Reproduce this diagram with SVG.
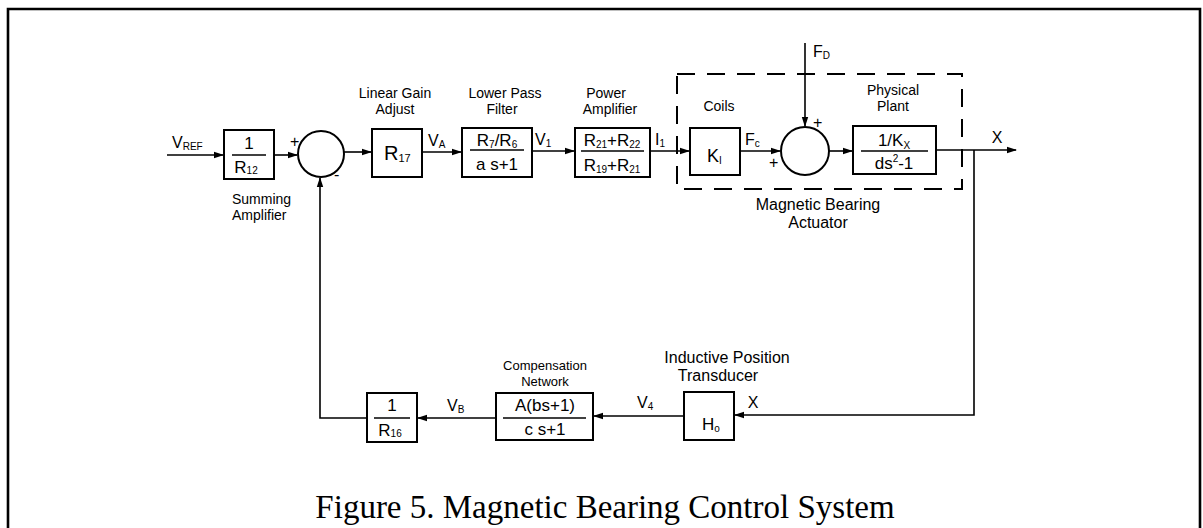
<svg xmlns="http://www.w3.org/2000/svg" width="1203" height="528" viewBox="0 0 1203 528">
<style>
.ln{fill:none;stroke:#000;stroke-width:1.6}
.bx{fill:#fff;stroke:#000;stroke-width:2}
.bar{stroke:#000;stroke-width:1.6}
.t{font-family:'Liberation Sans',Arial,sans-serif;fill:#000}
.lab{font-size:14px;text-anchor:middle}
.big{font-size:16px;text-anchor:middle}
.fr{font-size:17px;text-anchor:middle}
.sym{font-size:16px}
.sub{font-size:10px}
.dash{fill:none;stroke:#000;stroke-width:2;stroke-dasharray:18 12}
</style>
<defs>
<marker id="ah" markerWidth="10" markerHeight="8" refX="9" refY="4" orient="auto" markerUnits="userSpaceOnUse"><path d="M0,0.8 L10,4 L0,7.2z" fill="#000"/></marker>
</defs>
<rect width="1203" height="528" fill="#fff"/>
<g id="frame" fill="none" stroke="#000" stroke-width="2.6">
<path d="M8,528 V9 H1200 V528"/>
</g>
<g id="connectors" class="ln">
<path d="M167,155 H223" marker-end="url(#ah)"/>
<path d="M274,155 H297" marker-end="url(#ah)"/>
<path d="M344,152 H371" marker-end="url(#ah)"/>
<path d="M422,152 H461" marker-end="url(#ah)"/>
<path d="M532,151 H574" marker-end="url(#ah)"/>
<path d="M650,151 H689" marker-end="url(#ah)"/>
<path d="M740,151 H780" marker-end="url(#ah)"/>
<path d="M805,43 V126" marker-end="url(#ah)"/>
<path d="M829,151 H852" marker-end="url(#ah)"/>
<path d="M936,150 H1016" marker-end="url(#ah)"/>
<path d="M974,150 V415 H735" marker-end="url(#ah)"/>
<path d="M684,416 H594" marker-end="url(#ah)"/>
<path d="M496,418 H418" marker-end="url(#ah)"/>
<path d="M367,418 H320 V178" marker-end="url(#ah)"/>
</g>
<g id="actuator-boundary">
<rect class="dash" x="677" y="74" width="285" height="115"/>
<text class="t big" x="818" y="210">Magnetic Bearing</text>
<text class="t big" x="818" y="228">Actuator</text>
</g>
<g id="vref">
<text class="t sym" x="172" y="148">V<tspan class="sub" dy="2">REF</tspan></text>
</g>
<g id="summing-amplifier">
<rect class="bx" x="224" y="130" width="50" height="49"/>
<text class="t fr" x="249" y="149">1</text>
<line class="bar" x1="232" y1="155" x2="266" y2="155"/>
<text class="t fr" x="246" y="173">R<tspan class="sub" dy="1">12</tspan></text>
<text class="t lab" x="232" y="204" style="text-anchor:start">Summing</text>
<text class="t lab" x="232" y="220" style="text-anchor:start">Amplifier</text>
</g>
<g id="sum1">
<circle cx="321" cy="154" r="23" fill="#fff" stroke="#000" stroke-width="2"/>
<text class="t sym" x="290" y="147">+</text>
<text class="t sym" x="334" y="180">-</text>
</g>
<g id="linear-gain">
<text class="t lab" x="395" y="98">Linear Gain</text>
<text class="t lab" x="395" y="114">Adjust</text>
<rect class="bx" x="372" y="129" width="50" height="48"/>
<text class="t" x="384" y="160" font-size="20">R<tspan font-size="11" dy="2">17</tspan></text>
<text class="t sym" x="428" y="146">V<tspan class="sub" dy="2">A</tspan></text>
</g>
<g id="low-pass-filter">
<text class="t lab" x="505" y="98">Lower Pass</text>
<text class="t lab" x="502" y="114">Filter</text>
<rect class="bx" x="462" y="128" width="70" height="49"/>
<text class="t fr" x="497" y="146">R<tspan class="sub" dy="2">7</tspan><tspan dy="-2">/R</tspan><tspan class="sub" dy="2">6</tspan></text>
<line class="bar" x1="470" y1="150" x2="524" y2="150"/>
<text class="t fr" x="497" y="170">a s+1</text>
<text class="t sym" x="535" y="145">V<tspan class="sub" dy="2">1</tspan></text>
</g>
<g id="power-amplifier">
<text class="t lab" x="606" y="98">Power</text>
<text class="t lab" x="610" y="114">Amplifier</text>
<rect class="bx" x="575" y="128" width="75" height="49"/>
<text class="t fr" x="612" y="146">R<tspan class="sub" dy="2">21</tspan><tspan dy="-2">+R</tspan><tspan class="sub" dy="2">22</tspan></text>
<line class="bar" x1="581" y1="151" x2="644" y2="151"/>
<text class="t fr" x="612" y="171">R<tspan class="sub" dy="2">19</tspan><tspan dy="-2">+R</tspan><tspan class="sub" dy="2">21</tspan></text>
<text class="t sym" x="655" y="145">I<tspan class="sub" dy="2">1</tspan></text>
</g>
<g id="coils">
<text class="t lab" x="719" y="111">Coils</text>
<rect class="bx" x="690" y="128" width="50" height="47"/>
<text class="t" x="707" y="162" font-size="18">K<tspan font-size="10" dy="2">I</tspan></text>
<text class="t sym" x="745" y="145">F<tspan class="sub" dy="2">c</tspan></text>
</g>
<g id="sum2">
<circle cx="805" cy="151" r="24" fill="#fff" stroke="#000" stroke-width="2"/>
<text class="t sym" x="769" y="168">+</text>
<text class="t sym" x="813" y="128">+</text>
<text class="t sym" x="813" y="57">F<tspan class="sub" dy="2">D</tspan></text>
</g>
<g id="physical-plant">
<text class="t lab" x="893" y="95">Physical</text>
<text class="t lab" x="893" y="111">Plant</text>
<rect class="bx" x="853" y="126" width="83" height="48"/>
<text class="t fr" x="894" y="146">1/K<tspan class="sub" dy="3">X</tspan></text>
<line class="bar" x1="861" y1="151" x2="928" y2="151"/>
<text class="t fr" x="894" y="169">ds<tspan class="sub" dy="-7">2</tspan><tspan dy="7">-1</tspan></text>
<text class="t sym" x="997" y="143" text-anchor="middle">X</text>
</g>
<g id="position-transducer">
<text class="t big" x="727" y="363">Inductive Position</text>
<text class="t big" x="718" y="381">Transducer</text>
<rect class="bx" x="684" y="392" width="50" height="48"/>
<text class="t" x="702" y="430" font-size="17">H<tspan font-size="10" dy="2">o</tspan></text>
<text class="t sym" x="753" y="408" text-anchor="middle">X</text>
<text class="t sym" x="637" y="408">V<tspan class="sub" dy="2">4</tspan></text>
</g>
<g id="compensation-network">
<text class="t" x="545" y="370" font-size="13" text-anchor="middle">Compensation</text>
<text class="t" x="545" y="386" font-size="13" text-anchor="middle">Network</text>
<rect class="bx" x="496" y="393" width="97" height="47"/>
<text class="t fr" x="545" y="411">A(bs+1)</text>
<line class="bar" x1="503" y1="418" x2="586" y2="418"/>
<text class="t fr" x="545" y="435">c s+1</text>
<text class="t sym" x="447" y="411">V<tspan class="sub" dy="2">B</tspan></text>
</g>
<g id="feedback-gain">
<rect class="bx" x="367" y="393" width="50" height="49"/>
<text class="t fr" x="392" y="411">1</text>
<line class="bar" x1="374" y1="418" x2="410" y2="418"/>
<text class="t fr" x="390" y="436">R<tspan class="sub" dy="1">16</tspan></text>
</g>
<g id="caption">
<text x="605" y="518" font-family="'Liberation Serif','Times New Roman',serif" font-size="33" text-anchor="middle">Figure 5.  Magnetic Bearing Control System</text>
</g>
</svg>
